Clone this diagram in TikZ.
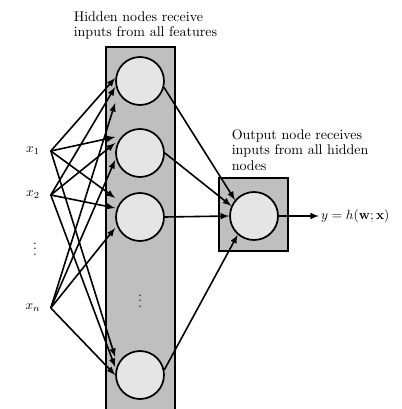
\documentclass[tikz,border=0pt]{standalone}
\usetikzlibrary{arrows}
\tikzset{
  neuron/.style={circle, draw, fill=black!10, line width=1.3pt, minimum size=36pt, inner sep=0pt},
  layerbox/.style={draw, fill=black!25, line width=1.3pt},
  feature/.style={minimum width=25.5pt, inner sep=0pt},
  note/.style={align=left, anchor=north west, inner sep=0pt, font=\fontsize{10.5}{11.6}\selectfont}
}
\begin{document}
\begin{tikzpicture}[x=0.75pt, y=-0.75pt, >=latex, line width=1.2pt]
    \useasboundingbox (0,0) rectangle (401,409);

    % 1. Hop xam cua lop an va nut ra
    \draw[layerbox] (106,47) rectangle (175,414);
    \draw[layerbox] (219,178) rectangle (288,251);

    % 2. Cac nut
    \node[neuron] (h1) at (140,81) {};
    \node[neuron] (h2) at (140,153) {};
    \node[neuron] (h3) at (140,217) {};
    \node (hdots) at (140,297) {$\vdots$};
    \node[neuron] (hn) at (140,375) {};
    \node[neuron] (o) at (254,216) {};

    % 3. Dau vao
    \node[feature] (x1) at (33,151) {$x_1$};
    \node[feature] (x2) at (33,195) {$x_2$};
    \node (xdots) at (35,245) {$\vdots$};
    \node[feature] (xn) at (33,308) {$x_n$};

    % 4. Chu thich
    \node[note] (hnote) at (73,11) {Hidden nodes receive\\inputs from all features};
    \node[note] (onote) at (231,128.5) {Output node receives\\inputs from all hidden\\nodes};
    \node[anchor=west, inner sep=1pt] (out) at (319,216) {$y = h(\mathbf{w};\mathbf{x})$};

    % 5. Canh tu dau vao den lop an
    \draw[->] (x1.east) -- ([yshift=2.25pt]h1.west);
    \draw[->] (x2.east) -- ([yshift=-4.5pt]h1.west);
    \draw[->] (xn.east) -- ([yshift=-16.5pt]h1.west);
    \draw[->] (x1.east) -- ([yshift=12pt]h2.west);
    \draw[->] (x2.east) -- ([yshift=7.5pt]h2.west);
    \draw[->] (xn.east) -- ([yshift=-5.25pt]h2.west);
    \draw[->] (x1.east) -- ([yshift=14.25pt]h3.west);
    \draw[->] (x2.east) -- ([yshift=6.75pt]h3.west);
    \draw[->] (xn.east) -- ([yshift=-8.25pt]h3.west);
    \draw[->] (x1.east) -- ([yshift=13.5pt]hn.west);
    \draw[->] (x2.east) -- ([yshift=6pt]hn.west);
    \draw[->] (xn.east) -- (hn.west);

    % 6. Canh tu lop an den nut ra
    \draw[->] (h1.-15) -- (o.140);
    \draw[->] (h2.east) -- (o.156);
    \draw[->] (h3.east) -- (o.west);
    \draw[->] (hn.12) -- (o.229);
    \draw[->] (o.east) -- (out.west);
\end{tikzpicture}
\end{document}
